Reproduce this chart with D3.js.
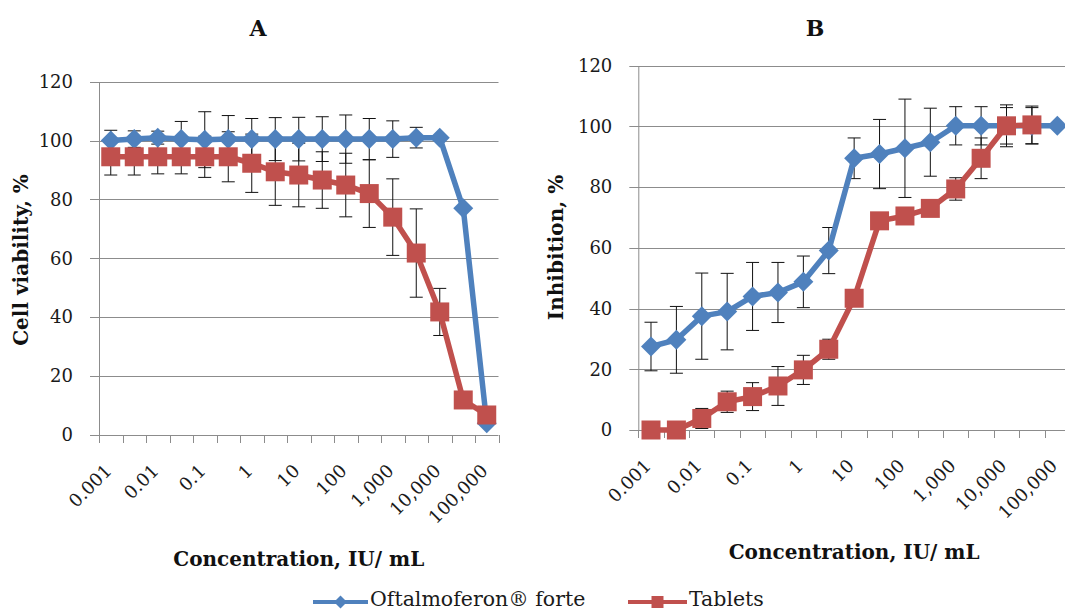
<!DOCTYPE html>
<html>
<head>
<meta charset="utf-8">
<script src="https://cdn.jsdelivr.net/npm/d3@7"></script>
<style>
  body { margin: 0; background: #fff; }
  svg { display: block; font-family: 'DejaVu Serif', serif; }
</style>
</head>
<body>
<svg></svg>
<script>
var width = 1065;
var height = 612;

// concentrations (IU/mL), half-log steps; only every other one is labelled
var categories = ['0.001', '0.003', '0.01', '0.03', '0.1', '0.3', '1', '3', '10', '30',
                  '100', '300', '1,000', '3,000', '10,000', '30,000', '100,000'];
var tickLabels = ['0.001', '0.01', '0.1', '1', '10', '100', '1,000', '10,000', '100,000'];
var yTicks = [0, 20, 40, 60, 80, 100, 120];

// A: cell viability, %
var viabOftalmo    = [100, 100.5, 101, 100.5, 100.3, 100.5, 100.5, 100.5, 100.5, 100.5, 100.5, 100.5, 100.5, 101, 101, 77, 4];
var viabOftalmoErr = [3.5, 2.8, 2.2, 6, 9.5, 8, 7, 7.3, 7.4, 7.6, 8.2, 7, 6.2, 3.5, 0, 0, 0];
var viabTablets    = [94.5, 94.5, 94.5, 94.5, 94.5, 94.5, 92.3, 89.4, 88.3, 86.6, 84.9, 82, 74, 61.8, 41.8, 11.9, 6.8];
var viabTabletsErr = [6.2, 6.2, 5.8, 5.8, 7, 8.5, 9.9, 11.4, 10.8, 9.6, 10.8, 11.5, 13, 15, 8, 0, 0];

// B: inhibition, %
var inhOftalmo    = [27.5, 29.7, 37.5, 39, 44, 45.3, 48.8, 59.1, 89.5, 90.9, 92.8, 94.8, 100.2, 100.2, 100.2, 100.2, 100.2];
var inhOftalmoErr = [8, 11, 14.2, 12.6, 11.2, 9.9, 8.5, 7.6, 6.7, 11.4, 16.2, 11.2, 6.3, 6.3, 6.9, 6, 0];
var inhTablets    = [0, 0, 3.8, 9.3, 11, 14.5, 19.8, 26.6, 43.4, 68.9, 70.5, 73, 79.4, 89.5, 100.2, 100.5, null];
var inhTabletsErr = [0, 0, 3.3, 3.5, 4.6, 6.4, 4.8, 3.3, 0, 0, 0, 0, 3.7, 6.7, 6, 6.2, 0];

var blue = '#4F81BD';
var red = '#C0504D';
var gridColor = '#8c8c8c';

var svg = d3.select('svg')
    .attr('width', width)
    .attr('height', height);

svg.append('rect')
    .attr('width', width)
    .attr('height', height)
    .attr('fill', '#fff');

function diamond(r) {
    return 'M0,' + (-r) + 'L' + r + ',0L0,' + r + 'L' + (-r) + ',0Z';
}

function drawPanel(p) {
    var x = d3.scaleBand()
        .domain(categories)
        .range([p.left, p.right]);

    var y = d3.scaleLinear()
        .domain([0, 120])
        .range([p.bottom, p.top]);

    var cx = function(i) { return x(categories[i]) + x.bandwidth() / 2; };

    var g = svg.append('g');

    //gridlines (they also make the small outer ticks on the left)
    g.append('g')
        .selectAll('line')
        .data(yTicks)
        .enter()
        .append('line')
        .attr('x1', p.left - 9)
        .attr('x2', p.right)
        .attr('y1', function(d) { return Math.round(y(d)) + 0.5; })
        .attr('y2', function(d) { return Math.round(y(d)) + 0.5; })
        .attr('stroke', gridColor)
        .attr('stroke-width', 1);

    //y axis
    var yAxis = g.append('g')
        .attr('transform', 'translate(' + p.left + ',0)')
        .call(d3.axisLeft(y).tickValues(yTicks).tickSize(0).tickPadding(26).tickSizeOuter(0));
    yAxis.select('.domain').attr('stroke', gridColor);
    yAxis.selectAll('text')
        .style('font-size', '18px')
        .style('font-family', 'DejaVu Serif')
        .attr('fill', '#1a1a1a');

    //x axis ticks at the category borders
    g.append('g')
        .selectAll('line')
        .data(categories.concat(['end']))
        .enter()
        .append('line')
        .attr('x1', function(d, i) { return Math.round(p.left + i * x.step()) + 0.5; })
        .attr('x2', function(d, i) { return Math.round(p.left + i * x.step()) + 0.5; })
        .attr('y1', p.bottom)
        .attr('y2', p.bottom + 8)
        .attr('stroke', gridColor);

    //x tick labels, rotated
    var xAxis = g.append('g')
        .attr('transform', 'translate(0,' + p.bottom + ')')
        .call(d3.axisBottom(x).tickValues(tickLabels).tickSize(0).tickSizeOuter(0));
    xAxis.select('.domain').remove();
    xAxis.selectAll('text')
        .attr('y', 0)
        .attr('dy', 0)
        .attr('transform', 'translate(' + p.labelDx + ',' + p.labelDy + ') rotate(-45)')
        .attr('text-anchor', 'end')
        .style('font-size', '18px')
        .style('font-family', 'DejaVu Serif')
        .attr('fill', '#1a1a1a');

    //axis titles
    g.append('text')
        .text(p.yTitle)
        .attr('transform', 'translate(' + p.yTitleX + ',' + p.yTitleY + ') rotate(-90)')
        .attr('text-anchor', 'middle')
        .style('font-size', '20px')
        .style('font-weight', 'bold')
        .attr('fill', '#111');

    g.append('text')
        .text('Concentration, IU/ mL')
        .attr('x', (p.left + p.right) / 2)
        .attr('y', p.xTitleY)
        .attr('text-anchor', 'middle')
        .style('font-size', '20px')
        .style('font-weight', 'bold')
        .attr('fill', '#111');

    //panel letter
    g.append('text')
        .text(p.letter)
        .attr('x', p.letterX)
        .attr('y', 36)
        .attr('text-anchor', 'middle')
        .style('font-size', '22px')
        .style('font-weight', 'bold')
        .attr('fill', '#111');

    //error bars under the markers
    p.series.forEach(function(s) {
        var eb = g.append('g')
            .selectAll('g')
            .data(s.values.map(function(v, i) { return { i: i, v: v, e: s.err[i] }; })
                .filter(function(d) { return d.v != null && d.e > 0; }))
            .enter()
            .append('g')
            .attr('stroke', '#111')
            .attr('stroke-width', 1);
        eb.append('line')
            .attr('x1', function(d) { return cx(d.i); })
            .attr('x2', function(d) { return cx(d.i); })
            .attr('y1', function(d) { return y(d.v - d.e); })
            .attr('y2', function(d) { return y(d.v + d.e); });
        [-1, 1].forEach(function(sign) {
            eb.append('line')
                .attr('x1', function(d) { return cx(d.i) - 6.5; })
                .attr('x2', function(d) { return cx(d.i) + 6.5; })
                .attr('y1', function(d) { return y(d.v + sign * d.e); })
                .attr('y2', function(d) { return y(d.v + sign * d.e); });
        });
    });

    //lines and markers, series by series
    p.series.forEach(function(s) {
        var pts = s.values.map(function(v, i) { return { i: i, v: v }; })
            .filter(function(d) { return d.v != null; });

        var line = d3.line()
            .x(function(d) { return cx(d.i); })
            .y(function(d) { return y(d.v); });

        g.append('path')
            .datum(pts)
            .attr('d', line)
            .attr('fill', 'none')
            .attr('stroke', s.color)
            .attr('stroke-width', 5.5)
            .attr('stroke-linejoin', 'round');

        g.append('g')
            .selectAll('path')
            .data(pts)
            .enter()
            .append('path')
            .attr('transform', function(d) { return 'translate(' + cx(d.i) + ',' + y(d.v) + ')'; })
            .attr('d', s.marker === 'diamond' ? diamond(10) : 'M-9.5,-9.5H9.5V9.5H-9.5Z')
            .attr('fill', s.color);
    });
}

drawPanel({
    letter: 'A', letterX: 258,
    left: 99, right: 498.5, top: 81.7, bottom: 435,
    labelDx: 2, labelDy: 37,
    yTitle: 'Cell viability, %', yTitleX: 28, yTitleY: 260,
    xTitleY: 566,
    series: [
        { values: viabOftalmo, err: viabOftalmoErr, color: blue, marker: 'diamond' },
        { values: viabTablets, err: viabTabletsErr, color: red, marker: 'square' }
    ]
});

drawPanel({
    letter: 'B', letterX: 815,
    left: 638.3, right: 1070, top: 65.7, bottom: 430,
    labelDx: 1, labelDy: 37,
    yTitle: 'Inhibition, %', yTitleX: 563, yTitleY: 247.5,
    xTitleY: 559,
    series: [
        { values: inhOftalmo, err: inhOftalmoErr, color: blue, marker: 'diamond' },
        { values: inhTablets, err: inhTabletsErr, color: red, marker: 'square' }
    ]
});

//legend
var legendItems = [
    { name: 'Oftalmoferon\u00AE forte', color: blue, marker: 'diamond', x1: 313, x2: 368 },
    { name: 'Tablets', color: red, marker: 'square', x1: 628, x2: 687 }
];

var legend = svg.append('g').attr('class', 'legend');
legendItems.forEach(function(d) {
    legend.append('line')
        .attr('x1', d.x1).attr('x2', d.x2)
        .attr('y1', 602).attr('y2', 602)
        .attr('stroke', d.color)
        .attr('stroke-width', 4);
    legend.append('path')
        .attr('transform', 'translate(' + (d.x1 + d.x2) / 2 + ',602)')
        .attr('d', d.marker === 'diamond' ? diamond(6.5) : 'M-6,-6H6V6H-6Z')
        .attr('fill', d.color);
    legend.append('text')
        .text(d.name)
        .attr('x', d.x2 + 2)
        .attr('y', 606)
        .style('font-size', '20.5px')
        .attr('fill', '#1a1a1a');
});
</script>
</body>
</html>
